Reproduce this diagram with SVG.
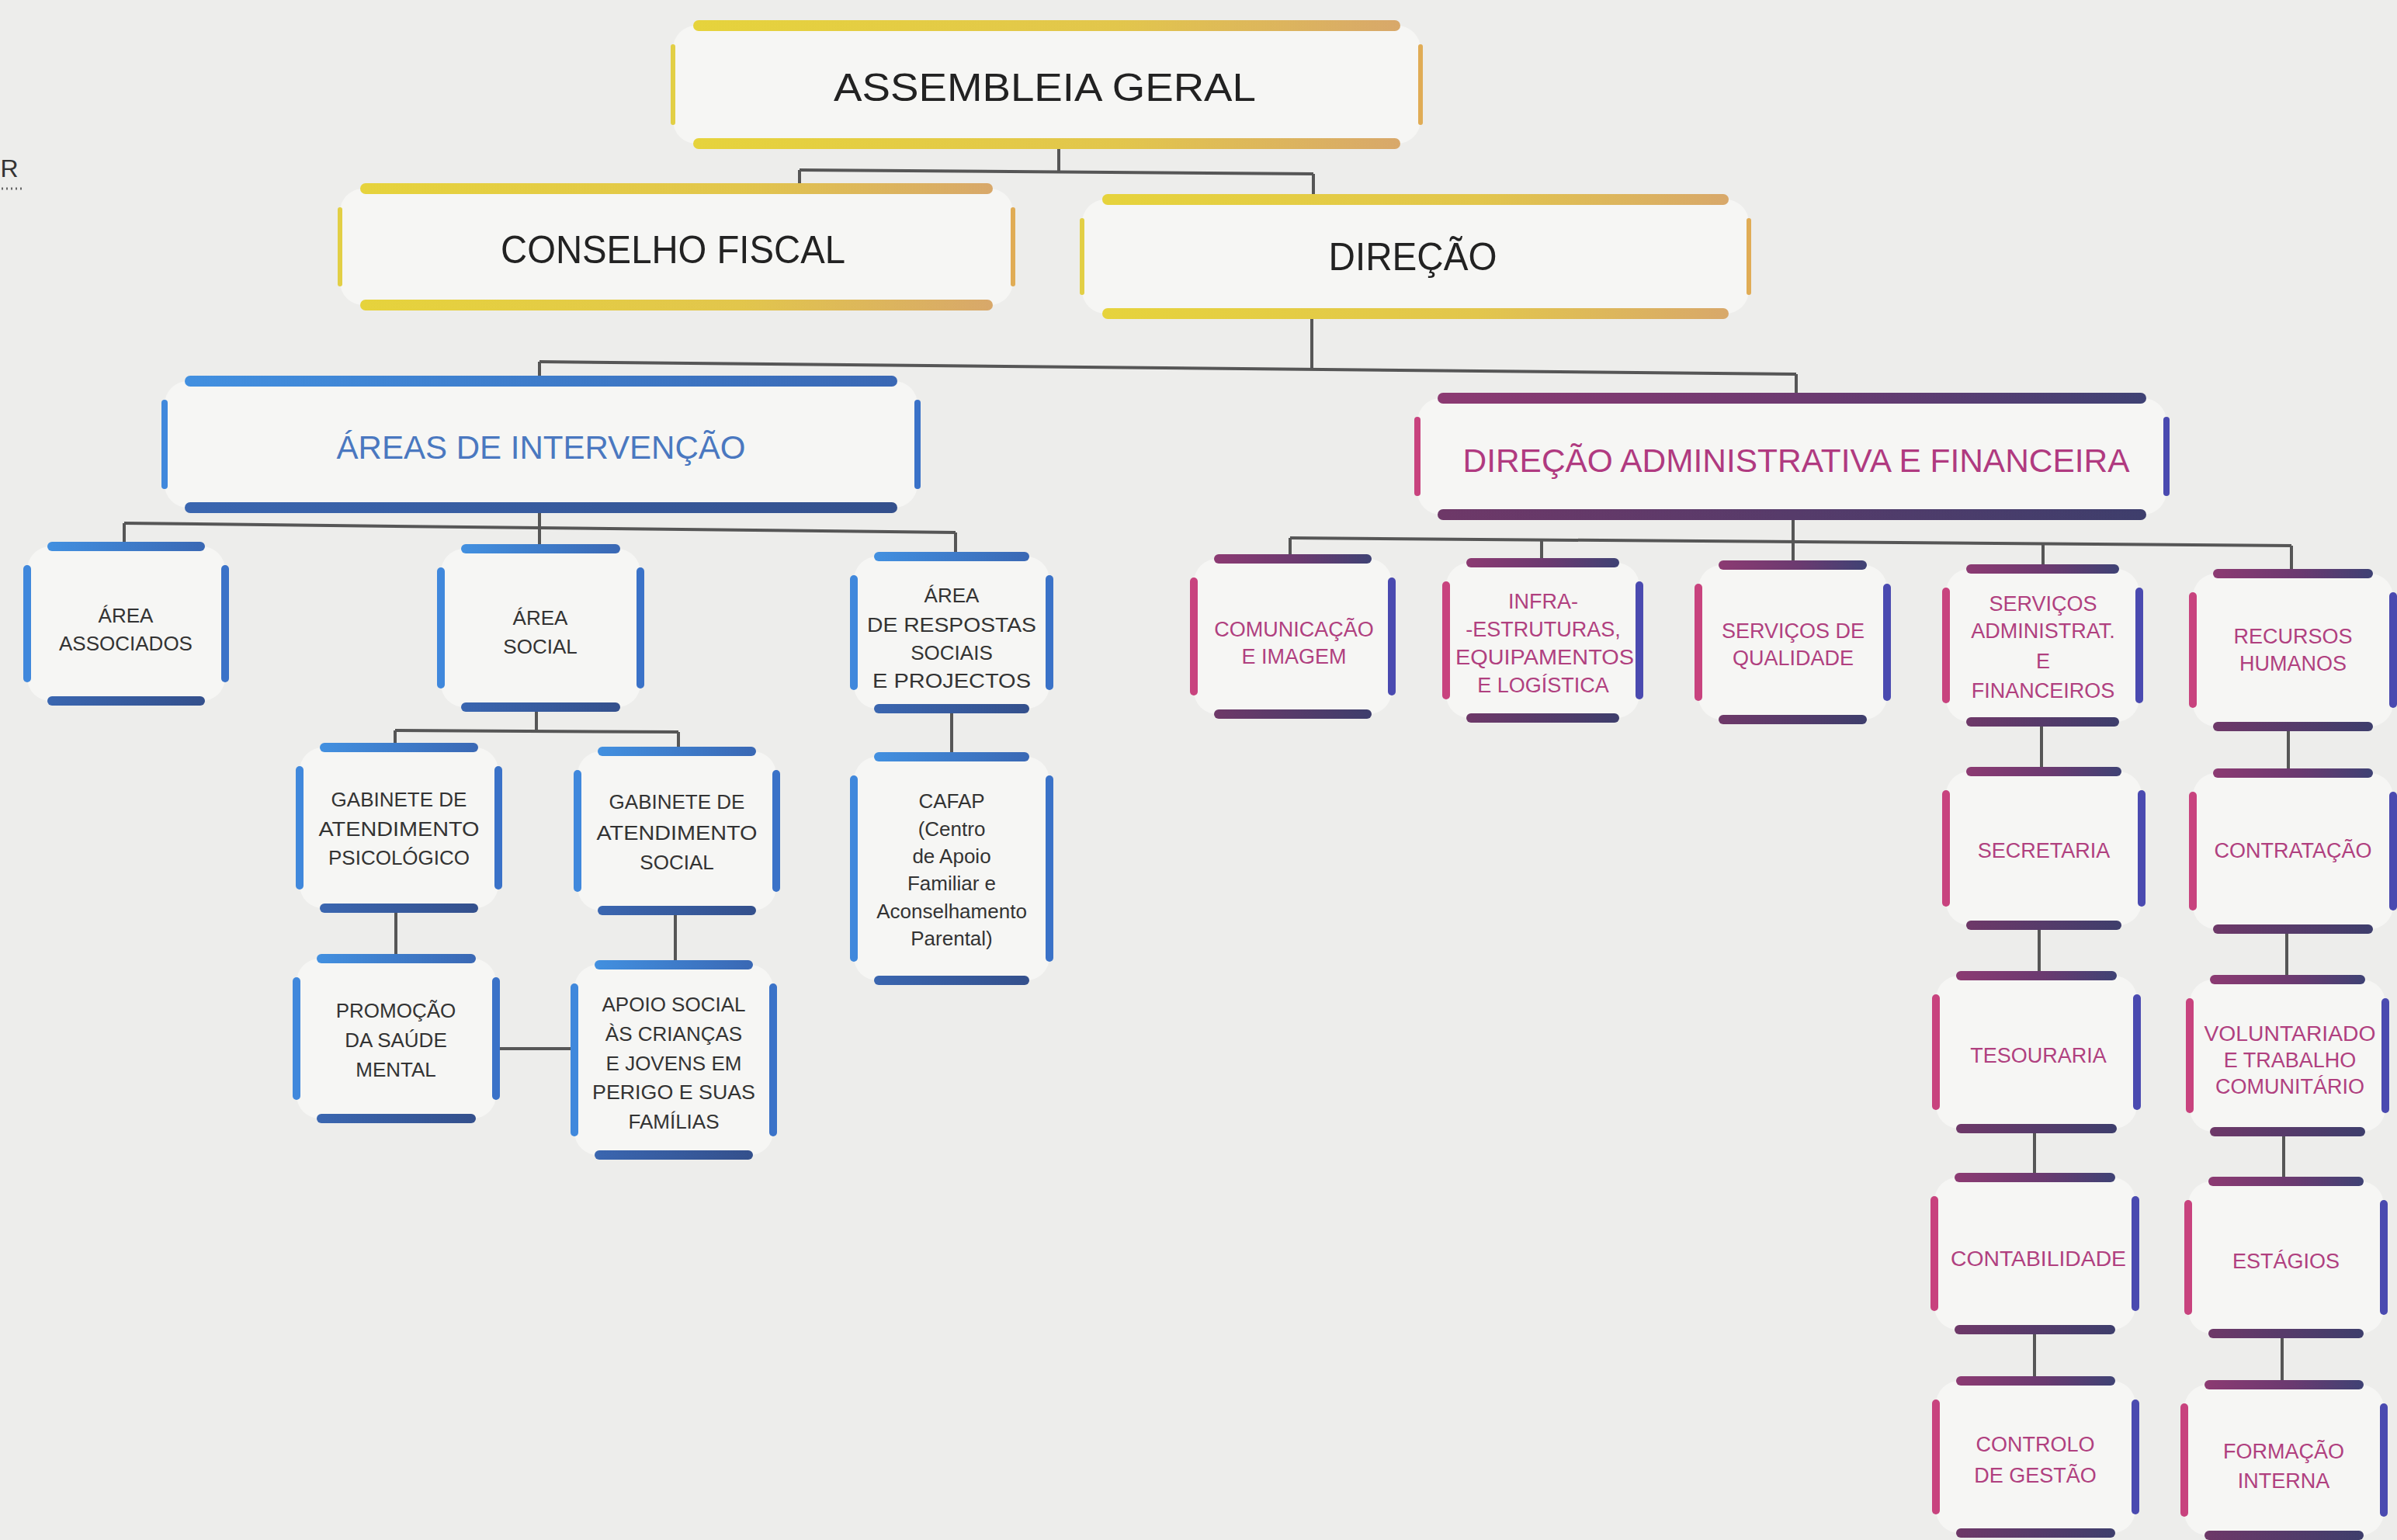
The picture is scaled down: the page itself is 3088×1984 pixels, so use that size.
<svg xmlns="http://www.w3.org/2000/svg" width="3088" height="1984" viewBox="0 0 3088 1984">
<defs>
<linearGradient id="yT" x1="0" y1="0" x2="1" y2="0"><stop offset="0" stop-color="#e6d33c"/><stop offset="0.6" stop-color="#e2c64c"/><stop offset="1" stop-color="#d8a86a"/></linearGradient>
<linearGradient id="bT" x1="0" y1="0" x2="1" y2="0"><stop offset="0" stop-color="#4290e0"/><stop offset="1" stop-color="#3a68b4"/></linearGradient>
<linearGradient id="bB" x1="0" y1="0" x2="1" y2="0"><stop offset="0" stop-color="#3a66b0"/><stop offset="1" stop-color="#34508c"/></linearGradient>
<linearGradient id="mT" x1="0" y1="0" x2="1" y2="0"><stop offset="0" stop-color="#8c3a72"/><stop offset="0.55" stop-color="#6a3a70"/><stop offset="1" stop-color="#3f4274"/></linearGradient>
<linearGradient id="mB" x1="0" y1="0" x2="1" y2="0"><stop offset="0" stop-color="#6e3868"/><stop offset="1" stop-color="#3e3e6c"/></linearGradient>
</defs>
<style>
.bg{fill:#f6f6f4}
.yellow .t,.yellow .b{fill:url(#yT)}
.yellow .l{fill:#e2cf45}
.yellow .r{fill:#e0ac55}
.blue .t{fill:url(#bT)}
.blue .b{fill:url(#bB)}
.blue .l{fill:#4088dc}
.blue .r{fill:#3a72c8}
.mag .t{fill:url(#mT)}
.mag .b{fill:url(#mB)}
.mag .l{fill:#c8437e}
.mag .r{fill:#4a4ab0}
text{font-family:"Liberation Sans",Arial,sans-serif;text-anchor:middle}
.hk{font-size:50px;fill:#222}
.hb{font-size:42px;fill:#4a78c0}
.hm{font-size:42px;fill:#b03a80}
.sb{font-size:26px;fill:#333}
.sm{font-size:27px;fill:#b0407f}
.conn line{stroke:#565656;stroke-width:4;fill:none}
</style>
<rect width="3088" height="1984" fill="#ededeb"/>

<text x="12" y="228" style="font-size:32px;fill:#333">R</text>
<line x1="2" y1="243" x2="30" y2="243" stroke="#666" stroke-width="3" stroke-dasharray="2 4"/>

<g id="connectors" class="conn">
<line x1="1364" y1="185" x2="1364" y2="221"/>
<line x1="1030" y1="219" x2="1692" y2="224"/>
<line x1="1030" y1="219" x2="1030" y2="243"/>
<line x1="1692" y1="224" x2="1692" y2="257"/>
<line x1="1690" y1="404" x2="1690" y2="476"/>
<line x1="695" y1="466" x2="2314" y2="482"/>
<line x1="695" y1="466" x2="695" y2="491"/>
<line x1="2314" y1="482" x2="2314" y2="513"/>
<line x1="695" y1="654" x2="695" y2="707"/>
<line x1="160" y1="674" x2="1231" y2="686"/>
<line x1="160" y1="674" x2="160" y2="704"/>
<line x1="1231" y1="686" x2="1231" y2="717"/>
<line x1="691" y1="911" x2="691" y2="942"/>
<line x1="509" y1="941" x2="874" y2="943"/>
<line x1="509" y1="941" x2="509" y2="963"/>
<line x1="874" y1="943" x2="874" y2="968"/>
<line x1="510" y1="1170" x2="510" y2="1235"/>
<line x1="870" y1="1173" x2="870" y2="1243"/>
<line x1="639" y1="1351" x2="740" y2="1351"/>
<line x1="1226" y1="913" x2="1226" y2="975"/>
<line x1="2310" y1="663" x2="2310" y2="728"/>
<line x1="1662" y1="693" x2="2952" y2="703"/>
<line x1="1662" y1="693" x2="1662" y2="720"/>
<line x1="1986" y1="695" x2="1986" y2="725"/>
<line x1="2632" y1="701" x2="2632" y2="733"/>
<line x1="2952" y1="703" x2="2952" y2="739"/>
<line x1="2630" y1="930" x2="2630" y2="994"/>
<line x1="2627" y1="1192" x2="2627" y2="1257"/>
<line x1="2621" y1="1454" x2="2621" y2="1517"/>
<line x1="2621" y1="1713" x2="2621" y2="1779"/>
<line x1="2948" y1="936" x2="2948" y2="996"/>
<line x1="2946" y1="1197" x2="2946" y2="1262"/>
<line x1="2942" y1="1458" x2="2942" y2="1522"/>
<line x1="2940" y1="1718" x2="2940" y2="1784"/>
</g>

<g id="n-assembleia" class="yellow">
<rect class="bg" x="867" y="33" width="963" height="152" rx="30"/>
<rect class="t" x="893" y="26" width="911" height="14" rx="7"/>
<rect class="b" x="893" y="178" width="911" height="14" rx="7"/>
<rect class="l" x="864" y="57" width="6" height="104" rx="3"/>
<rect class="r" x="1827" y="57" width="6" height="104" rx="3"/>
<text class="hk" x="1346" y="130" textLength="544" lengthAdjust="spacingAndGlyphs">ASSEMBLEIA GERAL</text>
</g>
<g id="n-conselho" class="yellow">
<rect class="bg" x="438" y="243" width="867" height="150" rx="30"/>
<rect class="t" x="464" y="236" width="815" height="14" rx="7"/>
<rect class="b" x="464" y="386" width="815" height="14" rx="7"/>
<rect class="l" x="435" y="267" width="6" height="102" rx="3"/>
<rect class="r" x="1302" y="267" width="6" height="102" rx="3"/>
<text class="hk" x="867" y="339" textLength="444" lengthAdjust="spacingAndGlyphs">CONSELHO FISCAL</text>
</g>
<g id="n-direcao" class="yellow">
<rect class="bg" x="1394" y="257" width="859" height="147" rx="30"/>
<rect class="t" x="1420" y="250" width="807" height="14" rx="7"/>
<rect class="b" x="1420" y="397" width="807" height="14" rx="7"/>
<rect class="l" x="1391" y="281" width="6" height="99" rx="3"/>
<rect class="r" x="2250" y="281" width="6" height="99" rx="3"/>
<text class="hk" x="1820" y="348" textLength="217" lengthAdjust="spacingAndGlyphs">DIREÇÃO</text>
</g>
<g id="n-areas" class="blue">
<rect class="bg" x="212" y="491" width="970" height="163" rx="30"/>
<rect class="t" x="238" y="484" width="918" height="14" rx="7"/>
<rect class="b" x="238" y="647" width="918" height="14" rx="7"/>
<rect class="l" x="208" y="515" width="8" height="115" rx="4"/>
<rect class="r" x="1178" y="515" width="8" height="115" rx="4"/>
<text class="hb" x="697" y="591" textLength="527" lengthAdjust="spacingAndGlyphs">ÁREAS DE INTERVENÇÃO</text>
</g>
<g id="n-daf" class="mag">
<rect class="bg" x="1826" y="513" width="965" height="150" rx="30"/>
<rect class="t" x="1852" y="506" width="913" height="14" rx="7"/>
<rect class="b" x="1852" y="656" width="913" height="14" rx="7"/>
<rect class="l" x="1822" y="537" width="8" height="102" rx="4"/>
<rect class="r" x="2787" y="537" width="8" height="102" rx="4"/>
<text class="hm" x="2314" y="608" textLength="859" lengthAdjust="spacingAndGlyphs">DIREÇÃO ADMINISTRATIVA E FINANCEIRA</text>
</g>

<g id="n-associados" class="blue">
<rect class="bg" x="35" y="704" width="255" height="199" rx="30"/>
<rect class="t" x="61" y="698" width="203" height="12" rx="6"/>
<rect class="b" x="61" y="897" width="203" height="12" rx="6"/>
<rect class="l" x="30" y="728" width="10" height="151" rx="5"/>
<rect class="r" x="285" y="728" width="10" height="151" rx="5"/>
<text class="sb" x="162" y="802">ÁREA</text>
<text class="sb" x="162" y="838">ASSOCIADOS</text>
</g>
<g id="n-social" class="blue">
<rect class="bg" x="568" y="707" width="257" height="204" rx="30"/>
<rect class="t" x="594" y="701" width="205" height="12" rx="6"/>
<rect class="b" x="594" y="905" width="205" height="12" rx="6"/>
<rect class="l" x="563" y="731" width="10" height="156" rx="5"/>
<rect class="r" x="820" y="731" width="10" height="156" rx="5"/>
<text class="sb" x="696" y="805">ÁREA</text>
<text class="sb" x="696" y="842">SOCIAL</text>
</g>
<g id="n-respostas" class="blue">
<rect class="bg" x="1100" y="717" width="252" height="196" rx="30"/>
<rect class="t" x="1126" y="711" width="200" height="12" rx="6"/>
<rect class="b" x="1126" y="907" width="200" height="12" rx="6"/>
<rect class="l" x="1095" y="741" width="10" height="148" rx="5"/>
<rect class="r" x="1347" y="741" width="10" height="148" rx="5"/>
<text class="sb" x="1226" y="776">ÁREA</text>
<text class="sb" x="1226" y="814" textLength="218" lengthAdjust="spacingAndGlyphs">DE RESPOSTAS</text>
<text class="sb" x="1226" y="850">SOCIAIS</text>
<text class="sb" x="1226" y="886" textLength="204" lengthAdjust="spacingAndGlyphs">E PROJECTOS</text>
</g>
<g id="n-gab-psico" class="blue">
<rect class="bg" x="386" y="963" width="256" height="207" rx="30"/>
<rect class="t" x="412" y="957" width="204" height="12" rx="6"/>
<rect class="b" x="412" y="1164" width="204" height="12" rx="6"/>
<rect class="l" x="381" y="987" width="10" height="159" rx="5"/>
<rect class="r" x="637" y="987" width="10" height="159" rx="5"/>
<text class="sb" x="514" y="1039">GABINETE DE</text>
<text class="sb" x="514" y="1077" textLength="207" lengthAdjust="spacingAndGlyphs">ATENDIMENTO</text>
<text class="sb" x="514" y="1114">PSICOLÓGICO</text>
</g>
<g id="n-gab-social" class="blue">
<rect class="bg" x="744" y="968" width="256" height="205" rx="30"/>
<rect class="t" x="770" y="962" width="204" height="12" rx="6"/>
<rect class="b" x="770" y="1167" width="204" height="12" rx="6"/>
<rect class="l" x="739" y="992" width="10" height="157" rx="5"/>
<rect class="r" x="995" y="992" width="10" height="157" rx="5"/>
<text class="sb" x="872" y="1042">GABINETE DE</text>
<text class="sb" x="872" y="1082" textLength="207" lengthAdjust="spacingAndGlyphs">ATENDIMENTO</text>
<text class="sb" x="872" y="1120">SOCIAL</text>
</g>
<g id="n-promocao" class="blue">
<rect class="bg" x="382" y="1235" width="257" height="206" rx="30"/>
<rect class="t" x="408" y="1229" width="205" height="12" rx="6"/>
<rect class="b" x="408" y="1435" width="205" height="12" rx="6"/>
<rect class="l" x="377" y="1259" width="10" height="158" rx="5"/>
<rect class="r" x="634" y="1259" width="10" height="158" rx="5"/>
<text class="sb" x="510" y="1311">PROMOÇÃO</text>
<text class="sb" x="510" y="1349">DA SAÚDE</text>
<text class="sb" x="510" y="1387">MENTAL</text>
</g>
<g id="n-apoio" class="blue">
<rect class="bg" x="740" y="1243" width="256" height="245" rx="30"/>
<rect class="t" x="766" y="1237" width="204" height="12" rx="6"/>
<rect class="b" x="766" y="1482" width="204" height="12" rx="6"/>
<rect class="l" x="735" y="1267" width="10" height="197" rx="5"/>
<rect class="r" x="991" y="1267" width="10" height="197" rx="5"/>
<text class="sb" x="868" y="1303">APOIO SOCIAL</text>
<text class="sb" x="868" y="1341">ÀS CRIANÇAS</text>
<text class="sb" x="868" y="1379">E JOVENS EM</text>
<text class="sb" x="868" y="1416" textLength="210" lengthAdjust="spacingAndGlyphs">PERIGO E SUAS</text>
<text class="sb" x="868" y="1454">FAMÍLIAS</text>
</g>
<g id="n-cafap" class="blue">
<rect class="bg" x="1100" y="975" width="252" height="288" rx="30"/>
<rect class="t" x="1126" y="969" width="200" height="12" rx="6"/>
<rect class="b" x="1126" y="1257" width="200" height="12" rx="6"/>
<rect class="l" x="1095" y="999" width="10" height="240" rx="5"/>
<rect class="r" x="1347" y="999" width="10" height="240" rx="5"/>
<text class="sb" x="1226" y="1041">CAFAP</text>
<text class="sb" x="1226" y="1077">(Centro</text>
<text class="sb" x="1226" y="1112">de Apoio</text>
<text class="sb" x="1226" y="1147">Familiar e</text>
<text class="sb" x="1226" y="1183">Aconselhamento</text>
<text class="sb" x="1226" y="1218">Parental)</text>
</g>

<g id="n-comunicacao" class="mag">
<rect class="bg" x="1538" y="720" width="255" height="200" rx="30"/>
<rect class="t" x="1564" y="714" width="203" height="12" rx="6"/>
<rect class="b" x="1564" y="914" width="203" height="12" rx="6"/>
<rect class="l" x="1533" y="744" width="10" height="152" rx="5"/>
<rect class="r" x="1788" y="744" width="10" height="152" rx="5"/>
<text class="sm" x="1667" y="820">COMUNICAÇÃO</text>
<text class="sm" x="1667" y="855">E IMAGEM</text>
</g>
<g id="n-infra" class="mag">
<rect class="bg" x="1863" y="725" width="249" height="200" rx="30"/>
<rect class="t" x="1889" y="719" width="197" height="12" rx="6"/>
<rect class="b" x="1889" y="919" width="197" height="12" rx="6"/>
<rect class="l" x="1858" y="749" width="10" height="152" rx="5"/>
<rect class="r" x="2107" y="749" width="10" height="152" rx="5"/>
<text class="sm" x="1988" y="784">INFRA-</text>
<text class="sm" x="1988" y="820">-ESTRUTURAS,</text>
<text class="sm" x="1990" y="856" textLength="230" lengthAdjust="spacingAndGlyphs">EQUIPAMENTOS</text>
<text class="sm" x="1988" y="892">E LOGÍSTICA</text>
</g>
<g id="n-qualidade" class="mag">
<rect class="bg" x="2188" y="728" width="243" height="199" rx="30"/>
<rect class="t" x="2214" y="722" width="191" height="12" rx="6"/>
<rect class="b" x="2214" y="921" width="191" height="12" rx="6"/>
<rect class="l" x="2183" y="752" width="10" height="151" rx="5"/>
<rect class="r" x="2426" y="752" width="10" height="151" rx="5"/>
<text class="sm" x="2310" y="822">SERVIÇOS DE</text>
<text class="sm" x="2310" y="857">QUALIDADE</text>
</g>
<g id="n-serv-admin" class="mag">
<rect class="bg" x="2507" y="733" width="249" height="197" rx="30"/>
<rect class="t" x="2533" y="727" width="197" height="12" rx="6"/>
<rect class="b" x="2533" y="924" width="197" height="12" rx="6"/>
<rect class="l" x="2502" y="757" width="10" height="149" rx="5"/>
<rect class="r" x="2751" y="757" width="10" height="149" rx="5"/>
<text class="sm" x="2632" y="787">SERVIÇOS</text>
<text class="sm" x="2632" y="822">ADMINISTRAT.</text>
<text class="sm" x="2632" y="861">E</text>
<text class="sm" x="2632" y="899">FINANCEIROS</text>
</g>
<g id="n-rh" class="mag">
<rect class="bg" x="2825" y="739" width="258" height="197" rx="30"/>
<rect class="t" x="2851" y="733" width="206" height="12" rx="6"/>
<rect class="b" x="2851" y="930" width="206" height="12" rx="6"/>
<rect class="l" x="2820" y="763" width="10" height="149" rx="5"/>
<rect class="r" x="3078" y="763" width="10" height="149" rx="5"/>
<text class="sm" x="2954" y="829">RECURSOS</text>
<text class="sm" x="2954" y="864">HUMANOS</text>
</g>
<g id="n-secretaria" class="mag">
<rect class="bg" x="2507" y="994" width="252" height="198" rx="30"/>
<rect class="t" x="2533" y="988" width="200" height="12" rx="6"/>
<rect class="b" x="2533" y="1186" width="200" height="12" rx="6"/>
<rect class="l" x="2502" y="1018" width="10" height="150" rx="5"/>
<rect class="r" x="2754" y="1018" width="10" height="150" rx="5"/>
<text class="sm" x="2633" y="1105">SECRETARIA</text>
</g>
<g id="n-contratacao" class="mag">
<rect class="bg" x="2825" y="996" width="258" height="201" rx="30"/>
<rect class="t" x="2851" y="990" width="206" height="12" rx="6"/>
<rect class="b" x="2851" y="1191" width="206" height="12" rx="6"/>
<rect class="l" x="2820" y="1020" width="10" height="153" rx="5"/>
<rect class="r" x="3078" y="1020" width="10" height="153" rx="5"/>
<text class="sm" x="2954" y="1105">CONTRATAÇÃO</text>
</g>
<g id="n-tesouraria" class="mag">
<rect class="bg" x="2494" y="1257" width="259" height="197" rx="30"/>
<rect class="t" x="2520" y="1251" width="207" height="12" rx="6"/>
<rect class="b" x="2520" y="1448" width="207" height="12" rx="6"/>
<rect class="l" x="2489" y="1281" width="10" height="149" rx="5"/>
<rect class="r" x="2748" y="1281" width="10" height="149" rx="5"/>
<text class="sm" x="2626" y="1369">TESOURARIA</text>
</g>
<g id="n-voluntariado" class="mag">
<rect class="bg" x="2821" y="1262" width="252" height="196" rx="30"/>
<rect class="t" x="2847" y="1256" width="200" height="12" rx="6"/>
<rect class="b" x="2847" y="1452" width="200" height="12" rx="6"/>
<rect class="l" x="2816" y="1286" width="10" height="148" rx="5"/>
<rect class="r" x="3068" y="1286" width="10" height="148" rx="5"/>
<text class="sm" x="2950" y="1341" textLength="221" lengthAdjust="spacingAndGlyphs">VOLUNTARIADO</text>
<text class="sm" x="2950" y="1375">E TRABALHO</text>
<text class="sm" x="2950" y="1409">COMUNITÁRIO</text>
</g>
<g id="n-contabilidade" class="mag">
<rect class="bg" x="2492" y="1517" width="259" height="196" rx="30"/>
<rect class="t" x="2518" y="1511" width="207" height="12" rx="6"/>
<rect class="b" x="2518" y="1707" width="207" height="12" rx="6"/>
<rect class="l" x="2487" y="1541" width="10" height="148" rx="5"/>
<rect class="r" x="2746" y="1541" width="10" height="148" rx="5"/>
<text class="sm" x="2626" y="1631" textLength="226" lengthAdjust="spacingAndGlyphs">CONTABILIDADE</text>
</g>
<g id="n-estagios" class="mag">
<rect class="bg" x="2819" y="1522" width="252" height="196" rx="30"/>
<rect class="t" x="2845" y="1516" width="200" height="12" rx="6"/>
<rect class="b" x="2845" y="1712" width="200" height="12" rx="6"/>
<rect class="l" x="2814" y="1546" width="10" height="148" rx="5"/>
<rect class="r" x="3066" y="1546" width="10" height="148" rx="5"/>
<text class="sm" x="2945" y="1634">ESTÁGIOS</text>
</g>
<g id="n-controlo" class="mag">
<rect class="bg" x="2494" y="1779" width="257" height="196" rx="30"/>
<rect class="t" x="2520" y="1773" width="205" height="12" rx="6"/>
<rect class="b" x="2520" y="1969" width="205" height="12" rx="6"/>
<rect class="l" x="2489" y="1803" width="10" height="148" rx="5"/>
<rect class="r" x="2746" y="1803" width="10" height="148" rx="5"/>
<text class="sm" x="2622" y="1870">CONTROLO</text>
<text class="sm" x="2622" y="1910">DE GESTÃO</text>
</g>
<g id="n-formacao" class="mag">
<rect class="bg" x="2814" y="1784" width="257" height="194" rx="30"/>
<rect class="t" x="2840" y="1778" width="205" height="12" rx="6"/>
<rect class="b" x="2840" y="1972" width="205" height="12" rx="6"/>
<rect class="l" x="2809" y="1808" width="10" height="146" rx="5"/>
<rect class="r" x="3066" y="1808" width="10" height="146" rx="5"/>
<text class="sm" x="2942" y="1879">FORMAÇÃO</text>
<text class="sm" x="2942" y="1917">INTERNA</text>
</g>
</svg>
